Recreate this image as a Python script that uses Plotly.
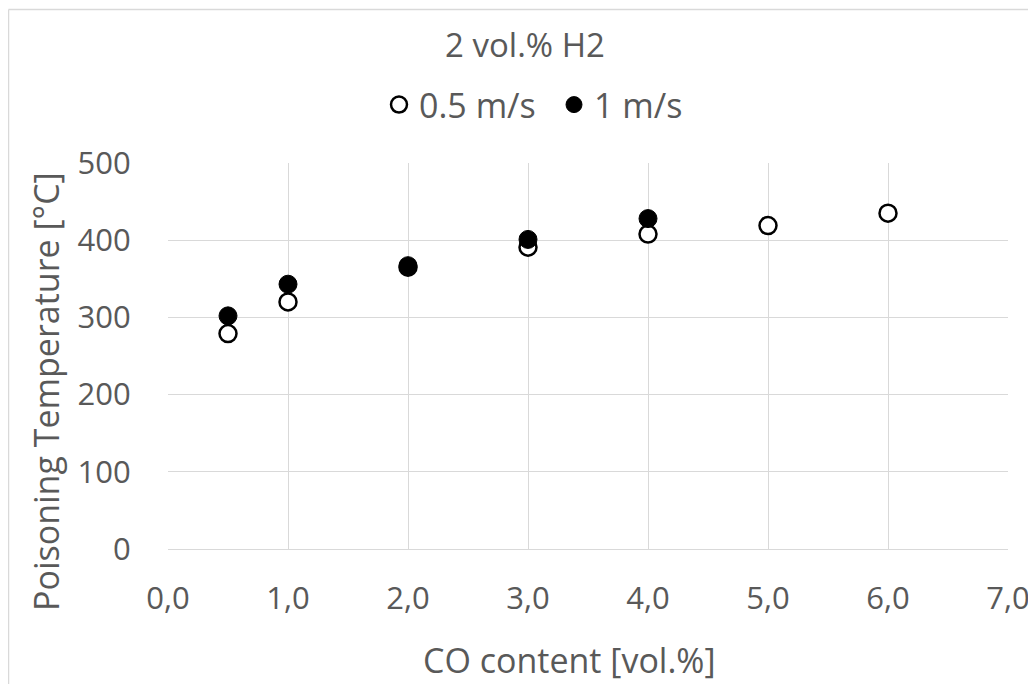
import plotly.graph_objects as go

co_open = [0.5, 1.0, 2.0, 3.0, 4.0, 5.0, 6.0]
temp_open = [279, 320, 365, 391, 408, 419, 435]
co_filled = [0.5, 1.0, 2.0, 3.0, 4.0]
temp_filled = [302, 343, 367, 401, 428]

x_ticks = [0, 1, 2, 3, 4, 5, 6, 7]
y_ticks = [0, 100, 200, 300, 400, 500]

FONT = "Open Sans"
GRAY = "#595959"
GRID = "#d9d9d9"

fig = go.Figure()
fig.add_trace(go.Scatter(
    x=co_open, y=temp_open, mode="markers", name="0.5 m/s",
    marker=dict(symbol="circle", size=17, color="white",
                line=dict(color="black", width=2.5)),
))
fig.add_trace(go.Scatter(
    x=co_filled, y=temp_filled, mode="markers", name="1 m/s",
    marker=dict(symbol="circle", size=18, color="black",
                line=dict(color="black", width=1)),
))

# page body adds an 8px offset; compensate
L, R, T, B = 160, 36, 155, 143
W, H = 1036, 684
pw = W - L - R
ph = H - T - B
bx = (0.5 - L) / pw
by = (H - B - 1.5) / ph

def px(xf):
    return (xf - L) / pw

def py(yf):
    return (H - B - yf) / ph

fig.update_layout(
    width=W, height=H,
    margin=dict(l=L, r=R, t=T, b=B, autoexpand=False),
    paper_bgcolor="white", plot_bgcolor="white",
    separators=",.",
    font=dict(family=FONT, color=GRAY, size=31),
    title=dict(text="2 vol.% H2", x=px(517), xref="paper", xanchor="center",
               y=1 - 37 / H, yanchor="middle",
               font=dict(family=FONT, size=33, color=GRAY)),
    legend=dict(orientation="h", x=px(371), xanchor="left", xref="paper",
                y=py(97), yanchor="middle", yref="paper",
                font=dict(family=FONT, size=34, color=GRAY),
                entrywidth=130, entrywidthmode="pixels",
                bgcolor="rgba(0,0,0,0)"),
    showlegend=True,
    xaxis=dict(range=[0, 7], tickvals=x_ticks, tickformat=".1f",
               showgrid=True, gridcolor=GRID, gridwidth=1.3,
               zeroline=False, showline=True, linecolor=GRID, linewidth=1.3,
               mirror=False, ticks="", ticklen=0, ticklabelstandoff=22,
               tickfont=dict(family=FONT, size=31, color=GRAY)),
    yaxis=dict(range=[0, 500], tickvals=y_ticks,
               showgrid=True, gridcolor=GRID, gridwidth=1.3,
               zeroline=False, showline=False,
               ticks="outside", ticklen=30, tickcolor="rgba(0,0,0,0)",
               tickfont=dict(family=FONT, size=31, color=GRAY)),
    annotations=[
        dict(text="CO content [vol.%]", xref="paper", yref="paper",
             x=px(561.5), y=py(652), xanchor="center", yanchor="middle",
             showarrow=False, font=dict(family=FONT, size=34, color=GRAY)),
        dict(text="Poisoning Temperature [°C]", xref="paper", yref="paper",
             x=px(38), y=py(384), xanchor="center", yanchor="middle",
             textangle=-90, showarrow=False,
             font=dict(family=FONT, size=34, color=GRAY)),
    ],
    shapes=[
        dict(type="line", xref="paper", yref="paper", x0=bx, x1=1.5, y0=by, y1=by,
             line=dict(color="#d9d9d9", width=1.5)),
        dict(type="line", xref="paper", yref="paper", x0=bx, x1=bx, y0=by, y1=-1,
             line=dict(color="#d9d9d9", width=1.5)),
    ],
)

fig.write_html("out.html")
